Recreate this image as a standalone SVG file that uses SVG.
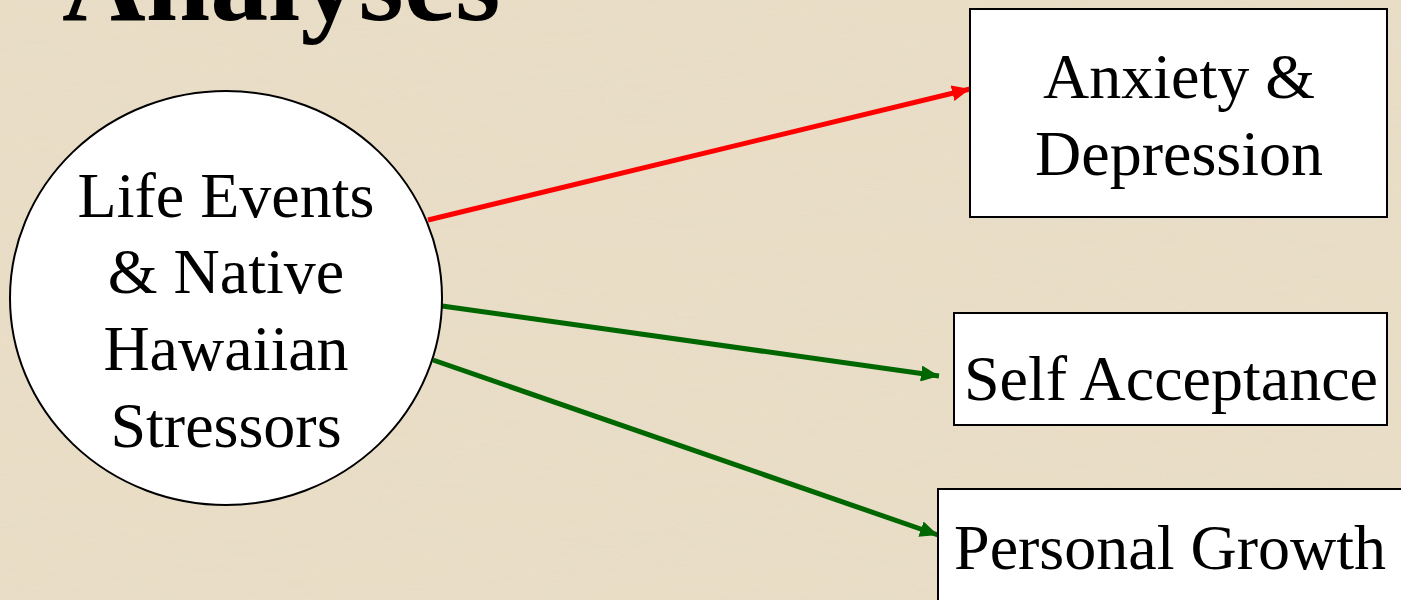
<svg xmlns="http://www.w3.org/2000/svg" width="1401" height="600" viewBox="0 0 1401 600">
<style>
.t{font-family:"Liberation Serif","Times New Roman",serif;font-size:64px;fill:#000;text-anchor:middle}
.title{font-family:"Liberation Serif","Times New Roman",serif;font-size:116px;font-weight:bold;fill:#000}
.box{fill:#fff;stroke:#000;stroke-width:2}
.red{stroke:#ff0000;stroke-width:5;fill:none}
.grn{stroke:#006600;stroke-width:5;fill:none}
</style>
<defs>
<marker id="ar" markerUnits="userSpaceOnUse" markerWidth="20" markerHeight="16" refX="18" refY="8" orient="auto">
<path d="M0,0 L18,8 L0,16 Z" fill="#ff0000"/>
</marker>
<marker id="ag" markerUnits="userSpaceOnUse" markerWidth="20" markerHeight="16" refX="18" refY="8" orient="auto">
<path d="M0,0 L18,8 L0,16 Z" fill="#006600"/>
</marker>
<filter id="tex" x="0" y="0" width="100%" height="100%">
<feTurbulence type="fractalNoise" baseFrequency="0.004 0.03" numOctaves="4" seed="7" result="n"/>
<feColorMatrix in="n" type="matrix" values="0 0 0 0 0.80  0 0 0 0 0.72  0 0 0 0 0.58  0 0 0 1.2 -0.35"/>
</filter>
</defs>
<rect x="0" y="0" width="1401" height="600" fill="#e9ddc6"/>
<rect x="0" y="0" width="1401" height="600" filter="url(#tex)" opacity="0.8"/>
<text class="title" x="62" y="20">Analyses</text>
<g id="connectors">
<line class="red" x1="428" y1="220" x2="970" y2="89" marker-end="url(#ar)"/>
<line class="grn" x1="442" y1="306" x2="939" y2="376" marker-end="url(#ag)"/>
<line class="grn" x1="433" y1="360" x2="938" y2="535" marker-end="url(#ag)"/>
</g>
<g id="node-stressors">
<ellipse cx="226" cy="298" rx="216" ry="207" fill="#fff" stroke="#000" stroke-width="2"/>
<text class="t" x="226" y="217">Life Events</text>
<text class="t" x="226" y="293">&amp; Native</text>
<text class="t" x="226" y="370">Hawaiian</text>
<text class="t" x="226" y="447">Stressors</text>
</g>
<g id="node-anxiety">
<rect class="box" x="970" y="9" width="417" height="208"/>
<text class="t" x="1179" y="98">Anxiety &amp;</text>
<text class="t" x="1179" y="175">Depression</text>
</g>
<g id="node-self">
<rect class="box" x="954" y="313" width="433" height="112"/>
<text class="t" x="1171" y="400">Self Acceptance</text>
</g>
<g id="node-growth">
<rect class="box" x="938" y="489" width="465" height="130"/>
<text class="t" x="1170" y="569">Personal Growth</text>
</g>
</svg>
